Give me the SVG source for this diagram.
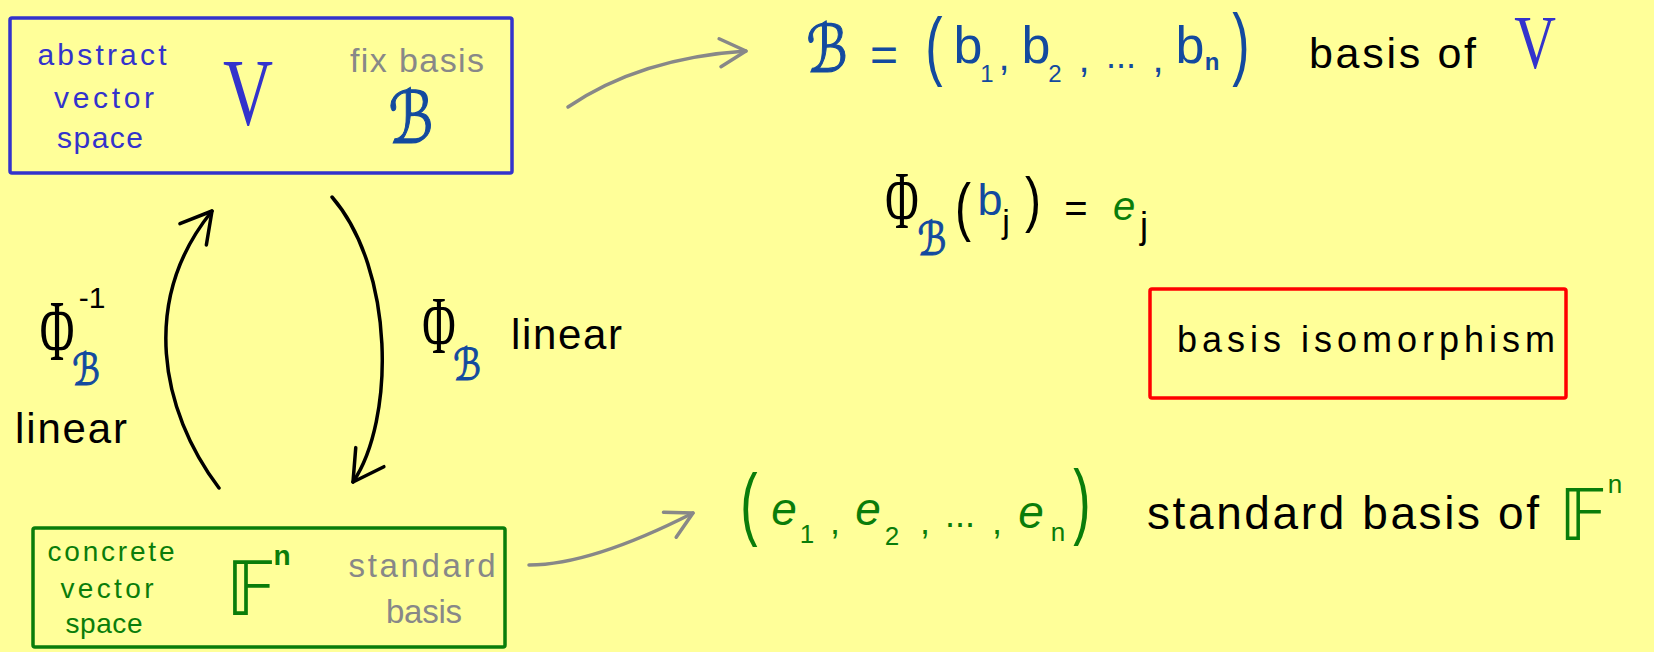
<svg xmlns="http://www.w3.org/2000/svg" width="1654" height="652" viewBox="0 0 1654 652">
<defs>
<style>
.hw{font-family:"Liberation Sans",Arial,sans-serif;}
.ser{font-family:"Liberation Serif","Times New Roman",serif;}
.scr{font-family:"DejaVu Sans","DejaVu Serif",sans-serif;stroke-width:1.2}
.blue{fill:#3333cc}
.dblue{fill:#134a9f}
.scr.dblue{stroke:#134a9f}
.green{fill:#0a7d0a}
.gray{fill:#888888}
.black{fill:#000000}
.mid{text-anchor:middle}
.box{fill:none;stroke-width:3.5}
.conn{fill:none;stroke-width:3.5;stroke-linecap:round}
</style>
<marker id="chev-gray" markerUnits="userSpaceOnUse" viewBox="-34 -20 38 40" refX="0" refY="0" markerWidth="38" markerHeight="40" orient="auto">
<path d="M-26,-14 L0,0 L-26,14" fill="none" stroke="#888888" stroke-width="3.5" stroke-linecap="round" stroke-linejoin="round"/>
</marker>
<marker id="chev-black" markerUnits="userSpaceOnUse" viewBox="-36 -22 40 44" refX="0" refY="0" markerWidth="40" markerHeight="44" orient="auto">
<path d="M-30,-17 L0,0 L-30,17" fill="none" stroke="#000000" stroke-width="3.5" stroke-linecap="round" stroke-linejoin="round"/>
</marker>
</defs>
<rect x="0" y="0" width="1654" height="652" fill="#ffff99"/>

<g id="node-V">
<rect x="10" y="18" width="502" height="155" rx="2" class="box" stroke="#3333cc"/>
<text class="hw blue mid" x="102" y="65" font-size="30" textLength="129" lengthAdjust="spacing">abstract</text>
<text class="hw blue mid" x="104" y="108" font-size="30" textLength="100" lengthAdjust="spacing">vector</text>
<text class="hw blue mid" x="100" y="148" font-size="30" textLength="86" lengthAdjust="spacing">space</text>
<text class="ser blue mid" font-size="95" transform="translate(248,125) scale(0.73,1)">V</text>
<text class="hw gray mid" x="417" y="72" font-size="34" textLength="134" lengthAdjust="spacing">fix basis</text>
<text class="scr dblue mid" font-size="72" transform="translate(411,143) scale(0.8,1)">ℬ</text>
</g>

<g id="node-Fn">
<rect x="33" y="528" width="472" height="119" rx="2" class="box" stroke="#0a7d0a"/>
<text class="hw green mid" x="111" y="561" font-size="28" textLength="127" lengthAdjust="spacing">concrete</text>
<text class="hw green mid" x="107" y="598" font-size="28" textLength="93" lengthAdjust="spacing">vector</text>
<text class="hw green mid" x="104" y="633" font-size="28" textLength="77" lengthAdjust="spacing">space</text>
<text class="scr green mid" x="251" y="615" font-size="75">𝔽</text>
<text class="hw green mid" x="282" y="565" font-size="28" font-weight="bold">n</text>
<text class="hw gray mid" x="422" y="577" font-size="33" textLength="147" lengthAdjust="spacing">standard</text>
<text class="hw gray mid" x="424" y="623" font-size="33" textLength="76" lengthAdjust="spacing">basis</text>
</g>

<g id="node-iso">
<rect x="1150" y="289" width="416" height="109" rx="2" class="box" stroke="#ff0000"/>
<text class="hw black" x="1177" y="352" font-size="36" textLength="378" lengthAdjust="spacing">basis isomorphism</text>
</g>

<g id="basis-B">
<text class="scr dblue mid" font-size="66" transform="translate(827,72) scale(0.8,1)">ℬ</text>
<text class="hw dblue mid" x="884" y="71" font-size="48">=</text>
<text class="hw dblue mid" font-size="40" transform="translate(934,71) scale(1.3,1.9)">(</text>
<text class="hw dblue mid" x="968" y="63" font-size="52">b</text>
<text class="hw dblue mid" x="987" y="82" font-size="24">1</text>
<text class="hw dblue mid" x="1004" y="70" font-size="40">,</text>
<text class="hw dblue mid" x="1036" y="63" font-size="52">b</text>
<text class="hw dblue mid" x="1055" y="82" font-size="24">2</text>
<text class="hw dblue mid" x="1084" y="72" font-size="40">,</text>
<text class="hw dblue mid" x="1121" y="68" font-size="36">...</text>
<text class="hw dblue mid" x="1158" y="72" font-size="40">,</text>
<text class="hw dblue mid" x="1190" y="63" font-size="52">b</text>
<text class="hw dblue mid" x="1212" y="70" font-size="24" font-weight="bold">n</text>
<text class="hw dblue mid" font-size="40" transform="translate(1241,70) scale(1.3,2)">)</text>
<text class="hw black" x="1309" y="68" font-size="43" textLength="167" lengthAdjust="spacing">basis of</text>
<text class="ser blue mid" font-size="77" transform="translate(1535,68) scale(0.75,1)">V</text>
</g>

<g id="phi-def">
<text class="ser black mid" font-size="83" transform="translate(902,228) scale(0.55,1)">Φ</text>
<text class="scr dblue mid" font-size="46" transform="translate(932,255) scale(0.8,1)">ℬ</text>
<text class="hw black mid" font-size="40" transform="translate(963,229) scale(1.2,1.62)">(</text>
<text class="hw dblue mid" x="990" y="215" font-size="45">b</text>
<text class="hw black mid" x="1006" y="233" font-size="34">j</text>
<text class="hw black mid" font-size="40" transform="translate(1033,220) scale(1.2,1.54)">)</text>
<text class="hw black mid" x="1076" y="222" font-size="40">=</text>
<text class="hw green mid" x="1124" y="220" font-size="40" font-style="italic">e</text>
<text class="hw black mid" x="1144" y="238" font-size="36">j</text>
</g>

<g id="std-basis">
<text class="hw green mid" font-size="40" transform="translate(749,530) scale(1.3,2)">(</text>
<text class="hw green mid" x="784" y="525" font-size="46" font-style="italic">e</text>
<text class="hw green mid" x="807" y="543" font-size="26">1</text>
<text class="hw green mid" x="835" y="534" font-size="36">,</text>
<text class="hw green mid" x="868" y="525" font-size="46" font-style="italic">e</text>
<text class="hw green mid" x="892" y="545" font-size="26">2</text>
<text class="hw green mid" x="925" y="534" font-size="36">,</text>
<text class="hw green mid" x="960" y="527" font-size="36">...</text>
<text class="hw green mid" x="997" y="534" font-size="36">,</text>
<text class="hw green mid" x="1031" y="528" font-size="46" font-style="italic">e</text>
<text class="hw green mid" x="1058" y="541" font-size="26">n</text>
<text class="hw green mid" font-size="40" transform="translate(1082,529) scale(1.3,2.1)">)</text>
<text class="hw black" x="1147" y="529" font-size="46" textLength="392" lengthAdjust="spacing">standard basis of</text>
<text class="scr green mid" x="1583" y="540" font-size="72">𝔽</text>
<text class="hw green mid" x="1615" y="493" font-size="26">n</text>
</g>

<g id="label-inv">
<text class="ser black mid" font-size="86" transform="translate(57,360) scale(0.55,1)">Φ</text>
<text class="hw black mid" x="92" y="308" font-size="30">-1</text>
<text class="scr dblue mid" font-size="44" transform="translate(86,385) scale(0.8,1)">ℬ</text>
<text class="hw black" x="15" y="443" font-size="42" textLength="112" lengthAdjust="spacing">linear</text>
</g>

<g id="label-fwd">
<text class="ser black mid" font-size="83" transform="translate(439,353) scale(0.55,1)">Φ</text>
<text class="scr dblue mid" font-size="44" transform="translate(467,380) scale(0.8,1)">ℬ</text>
<text class="hw black" x="511" y="349" font-size="42" textLength="111" lengthAdjust="spacing">linear</text>
</g>

<g id="connectors">
<path class="conn" stroke="#888888" d="M568,107 Q640,58 746,51" marker-end="url(#chev-gray)"/>
<path class="conn" stroke="#888888" d="M529,565 C580,565 640,540 693,513" marker-end="url(#chev-gray)"/>
<path class="conn" stroke="#000000" d="M219,488 C160,410 140,300 212,211" marker-end="url(#chev-black)"/>
<path class="conn" stroke="#000000" d="M332,197 C395,270 395,420 353,482" marker-end="url(#chev-black)"/>
</g>
</svg>
